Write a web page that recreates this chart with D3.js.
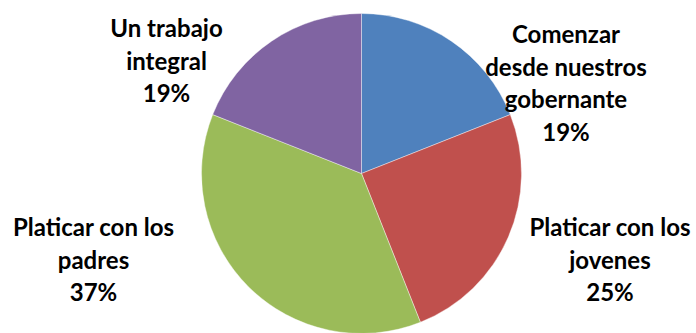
<!DOCTYPE html>
<html>
<head>
<meta charset="utf-8">
<script src="https://cdn.jsdelivr.net/npm/d3@7"></script>
<style>
  html, body { margin: 0; padding: 0; background: #fff; }
  svg { display: block; }
  .lbl { font-family: Lato, "Open Sans", sans-serif; font-weight: bold; fill: #000; }
</style>
</head>
<body>
<svg id="chart" width="696" height="333"></svg>
<script>
// data
const categories = ['Comenzar desde nuestros gobernante', 'Platicar con los jovenes', 'Platicar con los padres', 'Un trabajo integral'];
const labelLines = [['Comenzar', 'desde nuestros', 'gobernante'], ['Platicar con los', 'jovenes'], ['Platicar con los', 'padres'], ['Un trabajo', 'integral']];
const values = [19, 25, 37, 19];
const colors = ['#4F81BD', '#C0504D', '#9BBB59', '#8064A2'];

// layout
const width = 696, height = 333;
const cx = 361.5, cy = 173.5, radius = 160;
// label block centre (x) and first baseline (y) relative to pie centre
const labelPos = [[204.5, -130.5], [248.5, 62.5], [-268, 62.5], [-195, -136.5]];
const lineGap = 32.5;

const svg = d3.select('#chart');

const pie = d3.pie().sort(null).value(d => d)(values);
const arc = d3.arc().innerRadius(0).outerRadius(radius);

const g = svg.append('g').attr('transform', `translate(${cx},${cy})`);

g.selectAll('path')
  .data(pie)
  .enter()
  .append('path')
  .attr('d', arc)
  .attr('fill', (d, i) => colors[i])
  .attr('stroke', 'rgba(255,255,255,0.5)')
  .attr('stroke-width', 0.8);

// pick font size so the widest line matches the reference width (~165px)
const probe = svg.append('text').attr('class', 'lbl').style('font-size', '20px').text('Platicar con los');
const w20 = probe.node().getComputedTextLength();
probe.remove();
const fontSize = Math.min(24, 20 * 165 / w20);

const total = d3.sum(values);
labelLines.forEach((lines, i) => {
  const t = g.append('text')
    .attr('class', 'lbl')
    .attr('text-anchor', 'middle')
    .style('font-size', fontSize + 'px');
  const all = lines.concat([Math.round(values[i] / total * 100) + '%']);
  all.forEach((s, k) => {
    t.append('tspan')
      .attr('x', labelPos[i][0])
      .attr('y', labelPos[i][1] + k * lineGap)
      .text(s);
  });
});
</script>
</body>
</html>
